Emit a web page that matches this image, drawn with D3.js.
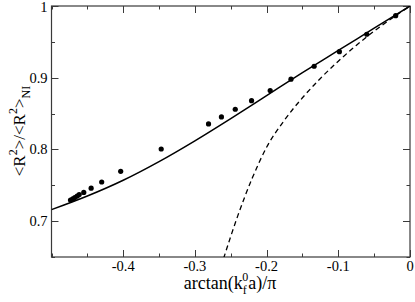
<!DOCTYPE html>
<html>
<head>
<meta charset="utf-8">
<script src="https://cdn.jsdelivr.net/npm/d3@7"></script>
<style>
  body { margin: 0; background: #fff; }
</style>
</head>
<body>
<div id="chart"></div>
<script>
// measured points (filled circles)
var pointX = [-0.4735, -0.4703, -0.4675, -0.4642, -0.4614, -0.455, -0.4447, -0.430, -0.4035, -0.347,
              -0.281, -0.263, -0.2437, -0.221, -0.195, -0.166, -0.1337, -0.0985, -0.0603, -0.02];
var pointY = [0.7295, 0.731, 0.733, 0.735, 0.737, 0.740, 0.746, 0.7546, 0.7695, 0.8006,
              0.8355, 0.8453, 0.856, 0.868, 0.882, 0.898, 0.916, 0.9363, 0.9606, 0.9865];

// solid curve
var solidX = [-0.5, -0.45, -0.4, -0.35, -0.3, -0.25, -0.2, -0.15, -0.1, -0.05, 0];
var solidY = [0.716, 0.735, 0.757, 0.783, 0.812, 0.843, 0.875, 0.907, 0.938, 0.969, 1.0];

// dashed curve
var dashX = [-0.26, -0.24, -0.22, -0.2, -0.175, -0.15, -0.125, -0.1, -0.075, -0.05, -0.025, 0];
var dashY = [0.648, 0.708, 0.760, 0.803, 0.841, 0.872, 0.899, 0.923, 0.945, 0.965, 0.983, 1.0];

var xMajor = [-0.4, -0.3, -0.2, -0.1, 0];
var xMajorLabels = ['-0.4', '-0.3', '-0.2', '-0.1', '0'];
var yMajor = [0.7, 0.8, 0.9, 1];
var yMajorLabels = ['0.7', '0.8', '0.9', '1'];

var svgWidth = 415;
var svgHeight = 302;
var plotLeft = 51.5, plotRight = 410, plotTop = 6, plotBottom = 257;
var serif = '"Liberation Serif", "Times New Roman", Times, serif';

var xScale = d3.scaleLinear().domain([-0.5, 0]).range([plotLeft, plotRight]);
var yScale = d3.scaleLinear().domain([0.65, 1]).range([plotBottom, plotTop]);

var svg = d3.select('#chart')
  .append('svg')
  .attr('width', svgWidth)
  .attr('height', svgHeight)
  .attr('font-family', serif);

svg.append('defs').append('clipPath').attr('id', 'plotclip')
  .append('rect')
  .attr('x', plotLeft).attr('y', plotTop)
  .attr('width', plotRight - plotLeft).attr('height', plotBottom - plotTop);

var xMinor = d3.range(-0.5, 0.001, 0.05);
var yMinor = d3.range(0.65, 1.001, 0.05);

// inward ticks on all four sides
var tickColor = '#3a3a3a';
function isMajor(v, arr) { return arr.some(function(m) { return Math.abs(m - v) < 1e-6; }); }

var ticks = svg.append('g').attr('stroke', tickColor).attr('stroke-width', 1);
xMinor.forEach(function(v) {
  var len = isMajor(v, xMajor) ? 7 : 3.5;
  var x = Math.round(xScale(v)) + 0.5;
  ticks.append('line').attr('x1', x).attr('x2', x).attr('y1', plotBottom).attr('y2', plotBottom - len);
  ticks.append('line').attr('x1', x).attr('x2', x).attr('y1', plotTop).attr('y2', plotTop + len);
});
yMinor.forEach(function(v) {
  var len = isMajor(v, yMajor) ? 7 : 3.5;
  var y = Math.round(yScale(v)) + 0.5;
  ticks.append('line').attr('x1', plotLeft).attr('x2', plotLeft + len).attr('y1', y).attr('y2', y);
  ticks.append('line').attr('x1', plotRight).attr('x2', plotRight - len).attr('y1', y).attr('y2', y);
});

// frame
svg.append('rect')
  .attr('x', plotLeft).attr('y', plotTop)
  .attr('width', plotRight - plotLeft).attr('height', plotBottom - plotTop)
  .attr('fill', 'none')
  .attr('stroke', tickColor)
  .attr('stroke-width', 1.2);

// tick labels
svg.append('g').selectAll('text')
  .data(xMajor)
  .enter()
  .append('text')
  .attr('x', function(d) { return xScale(d); })
  .attr('y', 271)
  .attr('text-anchor', 'middle')
  .attr('font-size', 14.5)
  .text(function(d, i) { return xMajorLabels[i]; });

svg.append('g').selectAll('text')
  .data(yMajor)
  .enter()
  .append('text')
  .attr('x', 47.5)
  .attr('y', function(d) { return Math.max(yScale(d) + 5, 12); })
  .attr('text-anchor', 'end')
  .attr('font-size', 14.5)
  .text(function(d, i) { return yMajorLabels[i]; });

// curves
var line = d3.line()
  .x(function(d) { return xScale(d[0]); })
  .y(function(d) { return yScale(d[1]); })
  .curve(d3.curveMonotoneX);

var plot = svg.append('g').attr('clip-path', 'url(#plotclip)');

plot.append('path')
  .datum(dashX.map(function(x, i) { return [x, dashY[i]]; }))
  .attr('d', line)
  .attr('fill', 'none')
  .attr('stroke', '#000')
  .attr('stroke-width', 1.3)
  .attr('stroke-dasharray', '5,3.5');

plot.append('path')
  .datum(solidX.map(function(x, i) { return [x, solidY[i]]; }))
  .attr('d', line)
  .attr('fill', 'none')
  .attr('stroke', '#000')
  .attr('stroke-width', 1.5);

plot.append('g')
  .selectAll('circle')
  .data(pointX)
  .enter()
  .append('circle')
  .attr('cx', function(d) { return xScale(d); })
  .attr('cy', function(d, i) { return yScale(pointY[i]); })
  .attr('r', 2.6)
  .attr('fill', '#000');

// x axis title: arctan(k_f^0 a)/pi
var xt = svg.append('text')
  .attr('x', 230)
  .attr('y', 289)
  .attr('text-anchor', 'middle')
  .attr('font-size', 18);
xt.append('tspan').text('arctan(k');
xt.append('tspan').attr('dy', 5).attr('font-size', 12).text('f');
xt.append('tspan').attr('dx', -4.5).attr('dy', -13).attr('font-size', 12).text('0');
xt.append('tspan').attr('dy', 8).text('a)/\u03c0');

// y axis title: <R^2>/<R^2>_NI
var yt = svg.append('text')
  .attr('transform', 'translate(25,131) rotate(-90)')
  .attr('text-anchor', 'middle')
  .attr('font-size', 17);
yt.append('tspan').text('<R');
yt.append('tspan').attr('dy', -8).attr('font-size', 12).text('2');
yt.append('tspan').attr('dy', 8).text('>/<R');
yt.append('tspan').attr('dy', -8).attr('font-size', 12).text('2');
yt.append('tspan').attr('dy', 8).text('>');
yt.append('tspan').attr('dy', 5).attr('font-size', 12).text('NI');
</script>
</body>
</html>
